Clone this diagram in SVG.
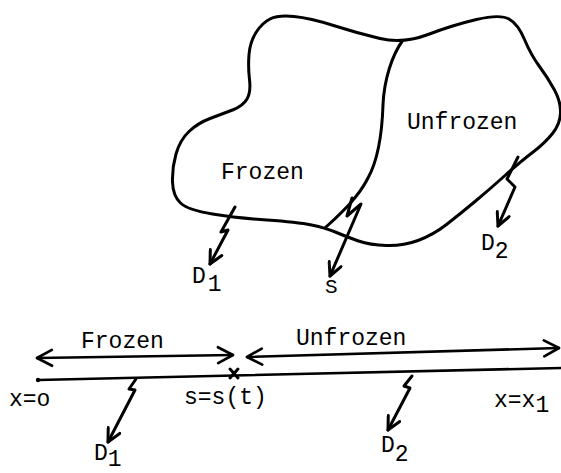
<svg xmlns="http://www.w3.org/2000/svg" width="561" height="473" viewBox="0 0 561 473">
<style>
.ln{fill:none;stroke:#000;stroke-width:2.6;stroke-linecap:round;stroke-linejoin:round}
.lt{fill:none;stroke:#000;stroke-width:3;stroke-linecap:round;stroke-linejoin:round}
.bl{fill:none;stroke:#000;stroke-width:3;stroke-linejoin:round}
text{font-family:"Liberation Mono","Courier New",monospace;font-size:23px;fill:#000}
</style>
<defs>
<marker id="big" viewBox="-20 -10 22 20" refX="0" refY="0" markerWidth="22" markerHeight="20" markerUnits="userSpaceOnUse" orient="auto-start-reverse">
<path d="M-15,-8 L0,0 L-15,8" fill="none" stroke="#000" stroke-width="2.6" stroke-linecap="round" stroke-linejoin="round"/>
</marker>
<marker id="sm" viewBox="-16 -8 18 16" refX="0" refY="0" markerWidth="18" markerHeight="16" markerUnits="userSpaceOnUse" orient="auto">
<path d="M-13,-6.5 L0,0 L-13,6.5" fill="none" stroke="#000" stroke-width="3" stroke-linecap="round" stroke-linejoin="round"/>
</marker>
</defs>
<g id="region">
<path class="bl" d="M380,38.5 Q403,44 428,34.5 Q453,25 476.5,19.5 Q500,14 509,19 Q518,24 524.5,39.5 Q531,55 539.5,66.5 Q548,78 554.5,90 Q561,102 560.5,113 Q560,124 552.5,133.5 Q545,143 532.5,152.5 Q520,162 505,175.5 Q490,189 475,201.5 Q460,214 446.5,224.5 Q433,235 418,240.5 Q403,246 386.5,245.5 Q370,245 358.5,241 Q347,237 336.5,232.5 Q326,228 311.5,225 Q297,222 267,220 Q237,218 212.5,214 Q188,210 180.5,203 Q173,196 172.5,182 Q172,168 176,154 Q180,140 189,131.5 Q198,123 210,118.5 Q222,114 232.5,110 Q243,106 247,99 Q251,92 249.5,79.5 Q248,67 249,54.5 Q250,42 256,32.5 Q262,23 270,19 Q278,15 294,16.5 Q310,18 333.5,25.5 Q357,33 380,38.5 Z"/>
<path id="divider" class="bl" d="M403,40 C392,55 384,80 383,105 C382,135 378,160 368,178 C358,198 340,214 325,228"/>
<text x="221" y="179">Frozen</text>
<text x="407" y="129">Unfrozen</text>
</g>
<g id="connectors">
<path class="lt" d="M235,207 L221,232 L228,230 L210,264" marker-end="url(#sm)"/>
<path class="lt" d="M352,198 L347,216 L361,204 L330,276" marker-end="url(#sm)"/>
<path class="lt" d="M518,157 L507,179 L515,187 L498,226" marker-end="url(#sm)"/>
<path class="lt" d="M136,379 L129,389 L135,390 L108,442" marker-end="url(#sm)"/>
<path class="lt" d="M412,376 L404,386 L410,388 L388,430" marker-end="url(#sm)"/>
<path class="ln" d="M37,358 L233,355" marker-start="url(#big)" marker-end="url(#big)"/>
<path class="ln" d="M247,357 L559,348" marker-start="url(#big)" marker-end="url(#big)"/>
</g>
<g id="domain">
<path class="ln" d="M38,380 L561,368"/>
<circle cx="38" cy="380" r="2.2" fill="#000"/>
<path class="lt" d="M230,369 L238,378 M238,369 L230,378"/>
<text x="81" y="348">Frozen</text>
<text x="296" y="345">Unfrozen</text>
<text x="9" y="406">x=o</text>
<text x="184" y="404">s=s(t)</text>
<text x="494" y="407">x=x<tspan dy="5">1</tspan></text>
</g>
<g id="labels">
<text x="192" y="283">D<tspan dx="2" dy="8">1</tspan></text>
<text x="325" y="293" style="font-size:21px">S</text>
<text x="481" y="250">D<tspan dy="8">2</tspan></text>
<text x="94" y="460">D<tspan dy="6">1</tspan></text>
<text x="381" y="452">D<tspan dy="9">2</tspan></text>
</g>
</svg>
